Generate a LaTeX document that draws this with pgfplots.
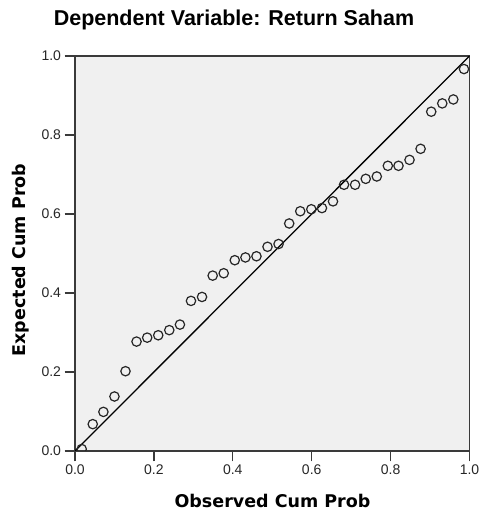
\documentclass[border=0pt]{standalone}
\usepackage{fontspec}
\setmainfont{Liberation Sans}
\newfontfamily\labfont{DejaVu Sans}
\usepackage{pgfplots}
\pgfplotsset{compat=1.18}
\definecolor{bg}{HTML}{F0F0F0}
\definecolor{frame}{HTML}{3A3A3A}
\begin{document}
\begin{tikzpicture}[x=1pt,y=1pt]
\path[use as bounding box] (0,0) rectangle (480,515);
\begin{axis}[
  at={(75pt,64pt)}, anchor=south west,
  scale only axis, width=394.5pt, height=395pt,
  xmin=0, xmax=1, ymin=0, ymax=1,
  axis background/.style={fill=bg},
  axis line style={frame, line width=1.2pt},
  xtick={0,0.2,0.4,0.6,0.8,1}, ytick={0,0.2,0.4,0.6,0.8,1},
  tick align=outside, tick pos=left,
  major tick length=10.5pt,
  every tick/.style={frame, line width=1.2pt},
  tick label style={font=\fontsize{14}{16}\selectfont, color=black!85},
  xticklabel style={/pgf/number format/fixed, /pgf/number format/fixed zerofill, /pgf/number format/precision=1, /pgf/number format/assume math mode=true},
  yticklabel style={/pgf/number format/fixed, /pgf/number format/fixed zerofill, /pgf/number format/precision=1, /pgf/number format/assume math mode=true},
  clip marker paths=true,
]
\addplot[black, line width=1.3pt] coordinates {(0,0) (1,1)};
\addplot[only marks, mark=o, mark size=4.7pt, mark options={line width=1.2pt, black!85}] table {
x y
0.017 0.005
0.045 0.068
0.072 0.099
0.100 0.138
0.128 0.202
0.156 0.277
0.183 0.287
0.211 0.293
0.239 0.306
0.266 0.320
0.294 0.380
0.322 0.390
0.349 0.444
0.377 0.450
0.405 0.483
0.432 0.490
0.460 0.493
0.488 0.517
0.516 0.524
0.543 0.576
0.571 0.607
0.599 0.612
0.626 0.615
0.654 0.632
0.682 0.674
0.710 0.674
0.737 0.689
0.765 0.695
0.793 0.722
0.820 0.722
0.848 0.737
0.876 0.765
0.903 0.859
0.931 0.880
0.959 0.890
0.986 0.967
};
\end{axis}
\node[anchor=base, font=\bfseries\fontsize{21.5}{24}\selectfont] at (234,489.3) {Dependent Variable: Return Saham};
\node[anchor=base, font=\labfont\bfseries\fontsize{17.5}{20}\selectfont] at (272.5,7) {Observed Cum Prob};
\node[anchor=base, rotate=90, font=\labfont\bfseries\fontsize{17.5}{20}\selectfont] at (25.5,255) {Expected Cum Prob};
\end{tikzpicture}
\end{document}
